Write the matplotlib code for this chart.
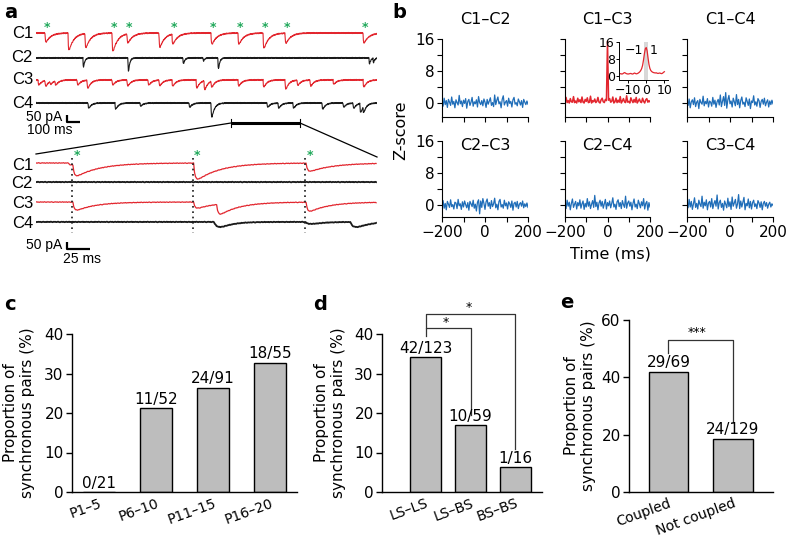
import numpy as np
import matplotlib
matplotlib.use('Agg')
import matplotlib.pyplot as plt
from matplotlib.lines import Line2D

plt.rcParams['font.family'] = ['DejaVu Sans']
plt.rcParams['axes.unicode_minus'] = True

# ---------------- data ----------------
# panel a : events (time ms, amplitude pA)
top_C1 = [(82, 64), (291, 121), (445, 100), (691, 129), (827, 64), (1118, 100),
          (1236, 71), (1591, 79), (1836, 79), (2064, 107), (2264, 71), (2973, 71)]
top_C1_stars = [82, 691, 827, 1236, 1591, 1836, 2064, 2264, 2973]
top_C2 = [(427, 64), (836, 93), (1336, 43), (1518, 21), (1654, 79), (3027, 43), (3064, 29)]
top_C3 = [(18, 36), (82, 40), (127, 21), (173, 29), (373, 36), (464, 57), (691, 36),
          (827, 43), (1018, 36), (1118, 40), (1236, 43), (1455, 57), (1527, 64),
          (1591, 43), (1836, 43), (2064, 50), (2264, 64), (2373, 36), (2491, 43),
          (2700, 30), (2973, 50)]
top_C4 = [(473, 36), (718, 43), (945, 21), (1391, 29), (1591, 100), (2100, 29),
          (2200, 36), (2336, 36), (2600, 43), (2791, 29), (2882, 36), (2945, 64), (2973, 43)]

zoom_C1 = [(35, 14), (40, 79), (171, 114), (293, 57)]
zoom_C2 = []
zoom_C3 = [(40, 57), (171, 43), (196, 71), (293, 64)]
zoom_C4 = [(193, 36), (292, 14), (341, 36)]
zoom_sync_times = [39, 170, 292]

jitter = [1.5, -2.0, 0.8, 3.1, -1.2, -3.4, 0.5, 2.2, -0.7, 1.9, -2.8, 0.3, 2.7, -1.6,
          -0.4, 3.3, -2.1, 1.0, -0.9, 2.4, -3.0, 0.6, 1.7, -1.4, -2.5, 2.9, 0.2, -1.8,
          1.3, -0.3, 3.0, -2.6, 0.9, -1.1, 2.0, -0.6, 1.4, -3.2, 0.4, 2.5, -1.5, 0.1,
          -2.3, 2.8, -0.8, 1.1, -1.9, 3.4, -0.2, -2.7, 1.6, 0.7, -1.0]

trace_names = ['C1', 'C2', 'C3', 'C4']

# panel b : cross-correlograms (Z-score), lags -200..200 ms
pair_names = ['C1–C2', 'C1–C3', 'C1–C4', 'C2–C3', 'C2–C4', 'C3–C4']
z_C1C2 = [0.3, -0.8, 1.2, -0.4, 0.6, -1.1, 0.9, 0.2, -0.6, 1.5, -0.3, 0.4, -1.2, 0.8, 0.1, -0.5,
          1.9, -0.2, 0.5, -0.9, 0.7, -0.1, 1.1, -1.3, 0.4, 0.9, -0.6, 0.2, 1.4, -0.8, 0.3, -0.2,
          0.8, -1.0, 1.6, 0.1, -0.4, 0.6, -0.7, 1.0, 0.2, -1.1, 0.9, -0.3, 0.5, 1.3, -0.6, 0.1,
          -0.9, 2.0, -0.4, 0.7, 1.5, -0.2, 0.3, -1.2, 0.9, 1.8, -0.5, 0.2, 0.6, -0.8, 1.2, -0.1,
          0.4, -1.0, 0.8, 1.4, -0.3, 0.1, -0.7, 1.0, 0.3, -0.5, 0.6, -1.1, 0.9, 0.2, -0.4, 0.5, -0.3]
z_C1C3 = [0.2, 1.4, 0.1, 0.6, 0.0, 1.1, 0.3, 0.2, 1.6, 0.1, 0.5, 0.0, 1.2, 0.3, 0.8, 0.1,
          1.5, 0.2, 0.0, 0.9, 0.4, 1.3, 0.1, 0.2, 1.7, 0.0, 0.6, 0.3, 1.0, 0.1, 0.4, 1.4,
          0.2, 0.0, 0.8, 1.2, 0.3, 0.1, 0.9, 0.6, 15.5, 0.7, 1.1, 0.2, 0.4, 1.5, 0.0, 0.3,
          1.2, 0.1, 0.7, 0.2, 1.6, 0.0, 0.5, 1.1, 0.3, 0.1, 1.8, 0.2, 0.4, 0.0, 1.3, 0.6,
          0.1, 0.9, 0.2, 1.4, 0.0, 0.5, 1.0, 0.3, 0.1, 1.2, 0.4, 0.0, 0.8, 1.1, 0.2, 0.6, 0.3]
z_C1C4 = [0.4, -0.6, 1.0, -1.2, 0.3, 0.8, -0.4, 1.3, -0.9, 0.2, 0.6, -1.4, 0.9, 0.1, -0.3, 1.7,
          -0.7, 0.4, -0.2, 1.1, -1.0, 0.5, 0.2, -0.8, 1.4, -0.3, 0.7, -1.1, 0.3, 0.9, -0.5, 2.0,
          -0.9, 0.4, 1.6, -0.6, 2.6, -1.3, 0.8, 1.9, -0.2, 0.5, -1.0, 1.2, 0.3, -0.7, 2.1, -0.4,
          0.9, -1.2, 0.6, 1.5, -0.3, 0.2, -0.9, 1.3, 0.4, -0.6, 1.0, -1.4, 0.5, 0.1, 1.8, -0.5,
          0.3, -0.8, 1.1, 0.6, -1.1, 0.4, 0.9, -0.3, 1.2, -0.7, 0.2, 0.8, -1.0, 0.5, -0.4, 0.7, -0.2]
z_C2C3 = [-0.3, 1.1, -0.8, 0.4, -1.2, 0.9, 0.2, -0.6, 1.3, -0.4, 0.1, -1.0, 0.7, 0.5, -0.9, 1.4,
          -0.2, 0.3, -1.1, 0.8, -0.5, 1.0, 0.1, -0.7, 0.6, -1.3, 0.9, 0.3, -0.4, 1.2, -0.8, 0.2,
          -1.5, 0.7, 1.3, -2.2, 1.0, -0.6, 1.6, 0.4, -1.1, 0.8, 1.5, -0.3, 0.6, -0.9, 1.1, -0.4,
          0.3, 1.7, -0.7, 0.2, -1.2, 0.9, 1.4, -0.5, 0.1, -0.8, 1.2, -0.2, 0.5, -1.0, 0.8, 0.3,
          -0.6, 1.0, -1.3, 0.4, 0.7, -0.5, 0.9, -0.9, 0.2, 0.6, -0.3, 1.0, -0.7, 0.3, -0.4, 0.5, -0.6]
z_C2C4 = [0.5, -0.9, 1.2, -0.3, 0.7, -1.2, 0.4, 1.5, -0.6, 0.2, 0.9, -1.0, 0.6, -0.2, 1.3, -0.8,
          0.3, 1.0, -1.1, 0.4, -0.5, 1.6, -0.3, 0.8, -0.9, 0.2, 1.1, -0.6, 2.4, -0.4, 0.7, -1.2,
          0.5, 1.2, -0.3, 0.9, -0.8, 0.3, 1.4, -1.0, 0.6, -0.2, 1.0, -0.7, 0.4, 1.8, -0.5, 0.2,
          -1.1, 0.8, 1.3, -0.4, 0.6, -0.9, 1.1, 0.1, -0.6, 2.2, -0.8, 0.5, 1.0, -0.3, 0.7, -1.2,
          0.4, 1.5, -0.5, 0.2, -0.9, 1.2, 0.3, -0.7, 0.8, -0.2, 1.6, -1.0, 0.4, 0.9, -1.3, 0.6, -0.5]
z_C3C4 = [0.6, -0.7, 1.4, -0.5, 0.9, -1.1, 0.3, 1.8, -0.6, 0.4, -1.0, 1.2, 0.2, -0.4, 2.2, -0.8,
          0.7, -0.2, 1.3, -1.2, 0.5, 0.9, -0.5, 1.6, -0.9, 0.3, 1.1, -0.3, 2.5, -1.0, 0.6, 1.2,
          -0.6, 0.4, -1.3, 1.0, 0.2, -0.7, 1.7, -0.4, 0.8, -1.1, 2.0, -0.3, 0.5, 1.4, -0.8, 0.3,
          2.6, -0.9, 1.0, -0.5, 0.7, 1.9, -1.2, 0.4, -0.2, 1.5, -0.7, 0.9, -1.0, 0.6, 1.2, -0.4,
          0.3, -0.9, 1.1, 0.5, -0.6, 0.8, -1.2, 0.4, 0.9, -0.3, 0.6, -0.8, 0.2, 0.7, -0.5, 0.3, -0.1]
# inset: C1-C3 at fine lags (-15..10 ms, 0.5 ms steps)
inset_z = [1.2, 1.0, 1.1, 0.9, 1.0, 1.3, 1.6, 1.4, 1.1, 1.0, 0.9, 1.0, 1.1, 1.2, 1.0, 0.9,
           1.1, 1.4, 1.2, 1.0, 1.1, 1.3, 1.6, 2.0, 2.6, 3.5, 5.0, 7.5, 10.5, 12.8, 13.4, 11.8,
           8.5, 5.5, 3.6, 2.6, 2.1, 1.8, 1.6, 1.5, 1.4, 1.5, 1.3, 1.2, 1.3, 1.4, 1.2, 1.1,
           1.3, 1.7, 2.0]

# panel c
c_groups = ['P1–5', 'P6–10', 'P11–15', 'P16–20']
c_sync = [0, 11, 24, 18]
c_total = [21, 52, 91, 55]
# panel d
d_groups = ['LS–LS', 'LS–BS', 'BS–BS']
d_sync = [42, 10, 1]
d_total = [123, 59, 16]
# panel e
e_groups = ['Coupled', 'Not coupled']
e_sync = [29, 24]
e_total = [69, 129]

# ---------------- figure ----------------
W, H = 788, 540
fig = plt.figure(figsize=(W / 100, H / 100), dpi=100)

def px_axes(x0, y0, x1, y1):
    return fig.add_axes([x0 / W, 1 - y1 / H, (x1 - x0) / W, (y1 - y0) / H])

def fx(x):
    return x / W

def fy(y):
    return 1 - y / H

def fline(xs, ys, **kw):
    fig.add_artist(Line2D([fx(v) for v in xs], [fy(v) for v in ys],
                          transform=fig.transFigure, **kw))

RED = '#e2262e'
BLACK = '#1a1a1a'
GREEN = '#1fa85a'
BLUE = '#1f6db8'
AFONT = ['Liberation Sans', 'DejaVu Sans']

def kernel(dt, tau, rise):
    tp = tau * rise / (tau - rise) * np.log(tau / rise)
    pk = np.exp(-tp / tau) - np.exp(-tp / rise)
    return (np.exp(-dt / tau) - np.exp(-dt / rise)) / pk

def build(t, events, tau, rise, shift, jscale=1.0):
    y = np.zeros_like(t, dtype=float)
    for t0, amp in events:
        dt = t - t0
        m = dt > 0
        y[m] -= amp * kernel(dt[m], tau, rise)
    y += jscale * np.roll(np.resize(np.array(jitter, float), t.size), shift)
    return y

# ---- panel a top traces ----
PA = 50 / 7.0  # pA per pixel
ax_t = px_axes(36, 20, 377, 135)
ax_t.set_xlim(0, 3100)
ax_t.set_ylim(-(135 - 33) * PA, (33 - 20) * PA)
ax_t.axis('off')
t_top = np.arange(0, 3100, 3.0)
top_events = [top_C1, top_C2, top_C3, top_C4]
top_taus = [(45, 3), (12, 2), (30, 3), (25, 3)]
top_off = [0, -178, -335, -500]
colors = [RED, BLACK, RED, BLACK]
for i in range(4):
    y = build(t_top, top_events[i], *top_taus[i], shift=11 * i, jscale=1.3)
    ax_t.plot(t_top, y + top_off[i], color=colors[i], lw=0.8)
for ts in top_C1_stars:
    ax_t.text(ts + 15, 40, '*', color=GREEN, fontsize=9, ha='center', va='center',
              fontweight='bold')
for i, nm in enumerate(trace_names):
    fig.text(fx(33), fy([33, 58, 80, 103][i]), nm, ha='right', va='center',
             fontsize=12, family=AFONT)

# scale bar top
fline([67, 67, 80], [115, 122, 122], color='black', lw=1.6, solid_capstyle='butt')
fig.text(fx(62), fy(117), '50 pA', ha='right', va='center', fontsize=10, family=AFONT)
fig.text(fx(50), fy(130), '100 ms', ha='center', va='center', fontsize=10, family=AFONT)

# zoom indicator
fline([231, 300], [123, 123], color='black', lw=2.2, solid_capstyle='butt')
fline([231, 231], [119, 127], color='black', lw=0.8)
fline([300, 300], [119, 127], color='black', lw=0.8)
fline([231, 36], [123, 154], color='black', lw=0.9)
fline([300, 377], [123, 157], color='black', lw=0.9)

# ---- panel a zoom traces ----
ax_z = px_axes(36, 150, 377, 262)
ax_z.set_xlim(0, 370)
ax_z.set_ylim(-(262 - 163) * PA, (163 - 150) * PA)
ax_z.axis('off')
t_z = np.arange(0, 370, 1.0)
zoom_events = [zoom_C1, zoom_C2, zoom_C3, zoom_C4]
zoom_taus = [(26, 1.5), (10, 2), (22, 1.5), (12, 4)]
zoom_off = [0, -136, -279, -421]
zoom_lw = [0.9, 1.3, 0.9, 1.3]
for i in range(4):
    y = build(t_z, zoom_events[i], *zoom_taus[i], shift=7 * i, jscale=0.7)
    ax_z.plot(t_z, y + zoom_off[i], color=colors[i], lw=zoom_lw[i])
for ts in zoom_sync_times:
    ax_z.plot([ts, ts], [(163 - 158) * PA, -(233 - 163) * PA], color=BLACK, lw=1.2,
              ls=(0, (1, 2.2)))
    ax_z.text(ts + 5, (163 - 155) * PA, '*', color=GREEN, fontsize=9, ha='center',
              va='center', fontweight='bold')
for i, nm in enumerate(trace_names):
    fig.text(fx(33), fy([165, 184, 203, 223][i]), nm, ha='right', va='center',
             fontsize=12, family=AFONT)

fline([67, 67, 90], [242, 249, 249], color='black', lw=1.6, solid_capstyle='butt')
fig.text(fx(62), fy(245), '50 pA', ha='right', va='center', fontsize=10, family=AFONT)
fig.text(fx(82), fy(259), '25 ms', ha='center', va='center', fontsize=10, family=AFONT)

# ---- panel b ----
traces_b = [z_C1C2, z_C1C3, z_C1C4, z_C2C3, z_C2C4, z_C3C4]
cols = [(442, 528), (565, 650), (687, 773)]
rows = [(39, 117, -3.5), (141, 217, -3.0)]
for k in range(6):
    r, c = divmod(k, 3)
    x0, x1 = cols[c]
    y0, y1, ybot = rows[r]
    ax = px_axes(x0, y0, x1, y1)
    vals = traces_b[k]
    lags = np.linspace(-200, 200, len(vals))
    ax.plot(lags, vals, color=RED if k == 1 else BLUE, lw=1.1 if k == 1 else 0.9)
    ax.set_xlim(-200, 200)
    ax.set_ylim(ybot, 16)
    for s in ['top', 'right']:
        ax.spines[s].set_visible(False)
    for s in ['left', 'bottom']:
        ax.spines[s].set_linewidth(0.8)
    ax.set_yticks([0, 8, 16])
    ax.set_yticks([4, 12], minor=True)
    ax.set_xticks([-200, 0, 200])
    ax.set_xticks([-100, 100], minor=True)
    ax.tick_params(which='both', direction='out', length=3.5, width=0.8, labelsize=11, pad=2)
    if c != 0:
        ax.set_yticklabels([])
    if r == 0:
        ax.set_xticklabels([])
    ax.patch.set_alpha(0)
    ty = 20 if r == 0 else 146
    fig.text(fx((x0 + x1) / 2), fy(ty), pair_names[k], ha='center', va='center', fontsize=11.5)

fig.text(fx(401), fy(130), 'Z-score', rotation=90, ha='center', va='center', fontsize=11.5)
fig.text(fx(610), fy(254), 'Time (ms)', ha='center', va='center', fontsize=11.5)

# inset
axi = px_axes(619, 42, 668, 80)
lag_i = np.linspace(-15, 10, len(inset_z))
axi.axvspan(-1.2, 1.2, color='#d8d8d8', lw=0)
axi.plot(lag_i, inset_z, color=RED, lw=0.9)
axi.set_xlim(-15, 12)
axi.set_ylim(-1.9, 16)
for s in ['top', 'right']:
    axi.spines[s].set_visible(False)
for s in ['left', 'bottom']:
    axi.spines[s].set_linewidth(0.7)
axi.set_yticks([0, 8, 16])
axi.set_xticks([-10, 0, 10])
axi.tick_params(direction='out', length=2, width=0.7, labelsize=9, pad=1)
axi.text(-1.8, 15.2, '−1', ha='right', va='top', fontsize=9)
axi.text(1.8, 15.2, '1', ha='left', va='top', fontsize=9)
axi.patch.set_alpha(0)

# ---- bar panels ----
def bar_panel(box, groups, sync, total, xlim, width, ylim, yticks, lab_fs):
    ax = px_axes(*box)
    vals = [100.0 * s / n for s, n in zip(sync, total)]
    xs = np.arange(len(groups))
    ax.bar(xs, vals, width=width, color='#bdbdbd', edgecolor='black', linewidth=1.0)
    for x, v, s, n in zip(xs, vals, sync, total):
        ax.annotate(f'{s}/{n}', (x, v), xytext=(0, 1), textcoords='offset points',
                    ha='center', va='bottom', fontsize=lab_fs)
    ax.set_xlim(*xlim)
    ax.set_ylim(*ylim)
    ax.set_yticks(yticks)
    ax.set_xticks(xs)
    ax.set_xticklabels(groups, rotation=20, ha='right', rotation_mode='anchor')
    for s in ['top', 'right']:
        ax.spines[s].set_visible(False)
    for s in ['left', 'bottom']:
        ax.spines[s].set_linewidth(1.0)
    ax.tick_params(axis='y', direction='out', length=4, width=1.0, labelsize=11, pad=2)
    ax.tick_params(axis='x', length=0, labelsize=10, pad=3)
    ax.patch.set_alpha(0)
    return ax

ax_c = bar_panel((72, 334, 297, 492), c_groups, c_sync, c_total, (-0.47, 3.47), 0.56,
                 (0, 40), [0, 10, 20, 30, 40], 11)
ax_d = bar_panel((382, 334, 542, 492), d_groups, d_sync, d_total, (-0.97, 2.59), 0.69,
                 (0, 40), [0, 10, 20, 30, 40], 11)
ax_e = bar_panel((629, 320, 773, 492), e_groups, e_sync, e_total, (-0.61, 1.62), 0.61,
                 (0, 60), [0, 20, 40, 60], 11)

br = dict(color='#333333', lw=0.9, clip_on=False)
ax_d.plot([0, 0, 1, 1], [39.6, 41.5, 41.5, 19.5], **br)
ax_d.plot([0, 0, 2, 2], [41.5, 45.0, 45.0, 11.0], **br)
ax_d.text(0.45, 42.9, '*', ha='center', va='center', fontsize=9, clip_on=False)
ax_d.text(0.95, 46.6, '*', ha='center', va='center', fontsize=9, clip_on=False)
ax_e.plot([0, 0, 1, 1], [48.5, 53.0, 53.0, 24.4], **br)
ax_e.text(0.45, 55.6, '***', ha='center', va='center', fontsize=9, clip_on=False)

ylab = 'Proportion of\nsynchronous pairs (%)'
for xc, yc in [(19, 413), (330, 413), (580, 406)]:
    fig.text(fx(xc), fy(yc), ylab, rotation=90, ha='center', va='center', fontsize=11,
             multialignment='center', linespacing=1.15)

# panel letters
for lab, x, y in [('a', 4, 12), ('b', 392, 13), ('c', 4, 305), ('d', 313, 305), ('e', 560, 303)]:
    fig.text(fx(x), fy(y), lab, ha='left', va='center', fontsize=14, fontweight='bold')

fig.savefig('out.png', dpi=100)
